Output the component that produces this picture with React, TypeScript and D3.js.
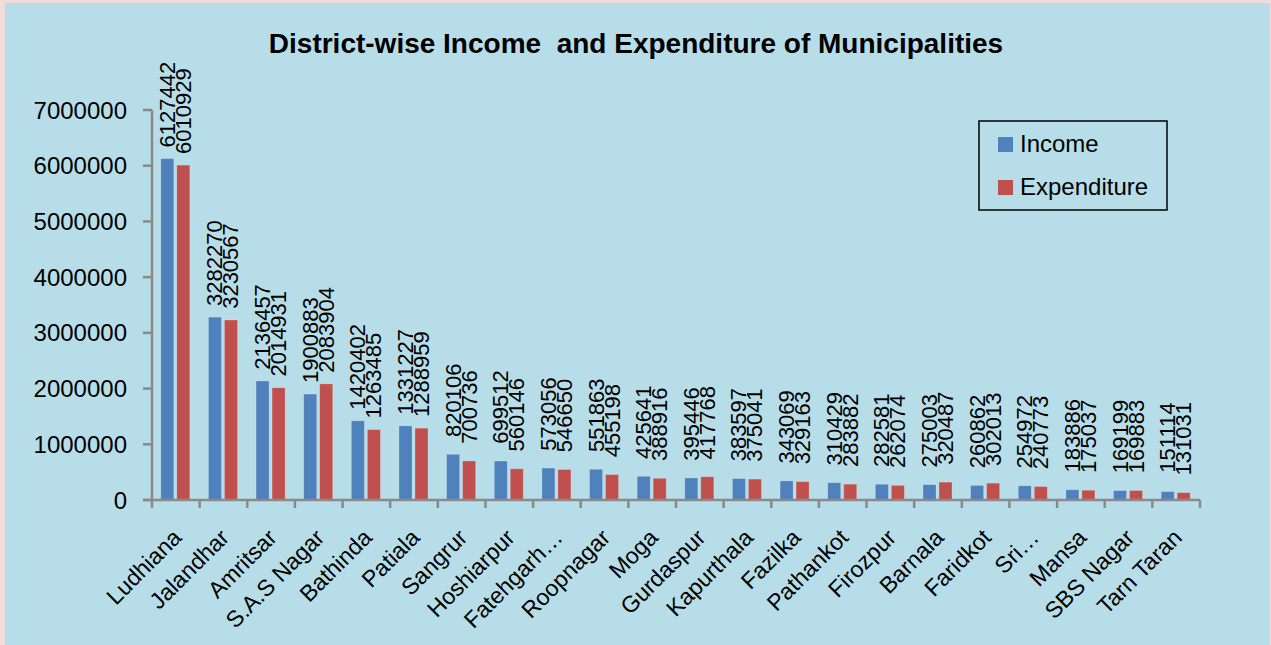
import React from "react";
import * as d3 from "d3";

const categories = ["Ludhiana","Jalandhar","Amritsar","S.A.S Nagar","Bathinda","Patiala","Sangrur","Hoshiarpur","Fatehgarh…","Roopnagar","Moga","Gurdaspur","Kapurthala","Fazilka","Pathankot","Firozpur","Barnala","Faridkot","Sri…","Mansa","SBS Nagar","Tarn Taran"];
const income = [6127442,3282270,2136457,1900883,1420402,1331227,820106,699512,573056,551863,425641,395446,383597,343069,310429,282581,275003,260862,254972,183886,169199,151114];
const expenditure = [6010929,3230567,2014931,2083904,1263485,1288959,700736,560146,546650,455198,388916,417768,375041,329163,283882,262074,320487,302013,240773,175037,169883,131031];
const yTicks = [0,1000000,2000000,3000000,4000000,5000000,6000000,7000000];
const seriesNames = ["Income","Expenditure"];
const colors = ["#4F81BD","#C0504D"];
const title = "District-wise Income  and Expenditure of Municipalities";

const W = 1271, H = 645;
const axisColor = "#8a8a8a";

export default function App() {
  const x = d3.scaleBand<string>().domain(categories).range([152, 1200]).padding(0);
  const y = d3.scaleLinear().domain([0, 7000000]).range([500, 110]);
  const bw = x.bandwidth();
  const barW = 13;
  const series = [income, expenditure];
  const offsets = [-15, 1];

  return (
    <div style={{ position: "fixed", left: 0, top: 0 }}>
      <svg width={W} height={H} style={{ display: "block" }}>
        <rect x={0} y={0} width={W} height={H} fill="#F2DCDB" />
        <rect x={5} y={3} width={1265} height={H} fill="#B7DDE8" />
        <text x={636} y={53} textAnchor="middle" style={{ whiteSpace: "pre" }} fontFamily="'Liberation Sans Narrow', 'Liberation Sans', sans-serif" fontWeight="bold" fontSize={28} fill="#000">{title}</text>

        {/* bars */}
        {series.map((vals, si) =>
          vals.map((v, i) => {
            const c = x(categories[i])! + bw / 2;
            return (
              <rect key={`b${si}-${i}`} x={c + offsets[si]} y={y(v)} width={barW} height={y(0) - y(v)} fill={colors[si]} stroke="rgba(255,255,255,0.25)" strokeWidth={0.8} />
            );
          })
        )}

        {/* data labels */}
        {series.map((vals, si) =>
          vals.map((v, i) => {
            const cx = x(categories[i])! + bw / 2 + offsets[si] + barW / 2;
            const cy = y(v) - 54;
            return (
              <text key={`l${si}-${i}`} transform={`translate(${cx},${cy}) rotate(-90)`} textAnchor="middle" dominantBaseline="central" fontFamily="'Liberation Sans Narrow', 'Liberation Sans', sans-serif" fontSize={22} fill="#000">{v}</text>
            );
          })
        )}

        {/* y axis */}
        <line x1={152} x2={152} y1={y(7000000)} y2={y(0)} stroke={axisColor} strokeWidth={2.5} />
        {yTicks.map((t) => (
          <g key={`yt${t}`}>
            <line x1={143} x2={152} y1={y(t)} y2={y(t)} stroke={axisColor} strokeWidth={2.5} />
            <text x={127} y={y(t)} textAnchor="end" dominantBaseline="central" fontFamily="'Liberation Sans', Arial, sans-serif" fontSize={24} fill="#000">{t}</text>
          </g>
        ))}

        {/* x axis */}
        <line x1={143} x2={1200} y1={y(0)} y2={y(0)} stroke={axisColor} strokeWidth={2.5} />
        {categories.map((c, i) => (
          <line key={`xt${i}`} x1={x(c)!} x2={x(c)!} y1={y(0)} y2={y(0) + 8} stroke={axisColor} strokeWidth={2.5} />
        ))}
        <line x1={1200} x2={1200} y1={y(0)} y2={y(0) + 8} stroke={axisColor} strokeWidth={2.5} />
        {categories.map((c, i) => {
          const cx = x(c)! + bw / 2 + 7;
          return (
            <text key={`xl${i}`} transform={`translate(${cx},539) rotate(-45)`} textAnchor="end" fontFamily="'Liberation Sans', Arial, sans-serif" fontSize={23} fill="#000">{c}</text>
          );
        })}

        {/* legend */}
        <rect x={979} y={121} width={188} height={89} fill="none" stroke="#000" strokeWidth={1.5} />
        {seriesNames.map((n, i) => (
          <g key={`lg${i}`}>
            <rect x={998} y={137 + i * 43} width={15} height={15} fill={colors[i]} />
            <text x={1020} y={152 + i * 43} fontFamily="'Liberation Sans', Arial, sans-serif" fontSize={24} fill="#000">{n}</text>
          </g>
        ))}
      </svg>
    </div>
  );
}
